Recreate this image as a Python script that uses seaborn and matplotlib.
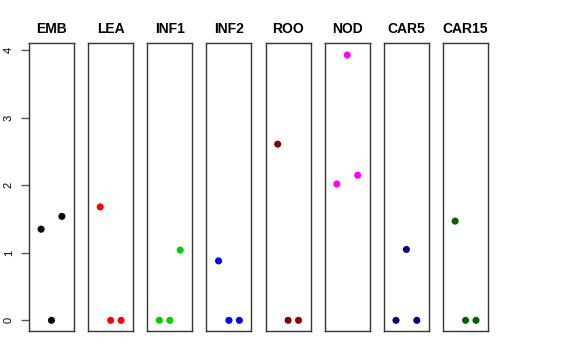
import numpy as np
import pandas as pd
import matplotlib
matplotlib.use("Agg")
import matplotlib.pyplot as plt
import seaborn as sns

# tissues and their three replicate values (x = 1, 2, 3)
tissues = ["EMB", "LEA", "INF1", "INF2", "ROO", "NOD", "CAR5", "CAR15"]
colors = ["#000000", "#FF0000", "#00CD00", "#0000FF",
          "#8B0000", "#FF00FF", "#000080", "#006400"]
replicate = [1, 2, 3]
emb = [1.35, 0.0, 1.54]
lea = [1.68, 0.0, 0.0]
inf1 = [0.0, 0.0, 1.04]
inf2 = [0.88, 0.0, 0.0]
roo = [2.61, 0.0, 0.0]
nod = [2.02, 3.93, 2.15]
car5 = [0.0, 1.05, 0.0]
car15 = [1.47, 0.0, 0.0]
values = [emb, lea, inf1, inf2, roo, nod, car5, car15]

rows = []
for t, v in zip(tissues, values):
    for r, y in zip(replicate, v):
        rows.append({"tissue": t, "rep": r, "value": y})
df = pd.DataFrame(rows)

sns.set_style("white")
plt.rcParams["font.family"] = ["Liberation Sans", "DejaVu Sans"]
plt.rcParams["text.color"] = "black"
plt.rcParams["ytick.color"] = "black"

fig = plt.figure(figsize=(5.76, 3.6), dpi=100)

W, H = 576.0, 360.0
left0, step, pw = 29.0, 59.15, 45.0
top, bottom = 43.0, 331.0

for i, (t, c) in enumerate(zip(tissues, colors)):
    x0 = left0 + i * step
    ax = fig.add_axes([x0 / W, (H - bottom) / H, pw / W, (bottom - top) / H])
    sub = df[df["tissue"] == t]
    sns.scatterplot(data=sub, x="rep", y="value", color=c, s=26,
                    edgecolor="none", ax=ax, legend=False)
    ax.set_xlim(-0.16, 4.16)
    ax.set_ylim(-0.158, 4.108)
    ax.set_xlabel("")
    ax.set_ylabel("")
    ax.set_xticks([])
    ax.set_title(t, fontsize=10, fontweight="bold", pad=7, color="black")
    for s in ax.spines.values():
        s.set_visible(True)
        s.set_color("#333333")
        s.set_linewidth(1.0)
    if i == 0:
        ax.set_yticks([0, 1, 2, 3, 4])
        ax.tick_params(axis="y", left=True, length=6, width=1,
                       color="#555555", labelcolor="black", labelsize=8, pad=5)
        for lab in ax.get_yticklabels():
            lab.set_rotation(90)
            lab.set_va("center")
    else:
        ax.set_yticks([])

fig.savefig("out.png", dpi=100)
